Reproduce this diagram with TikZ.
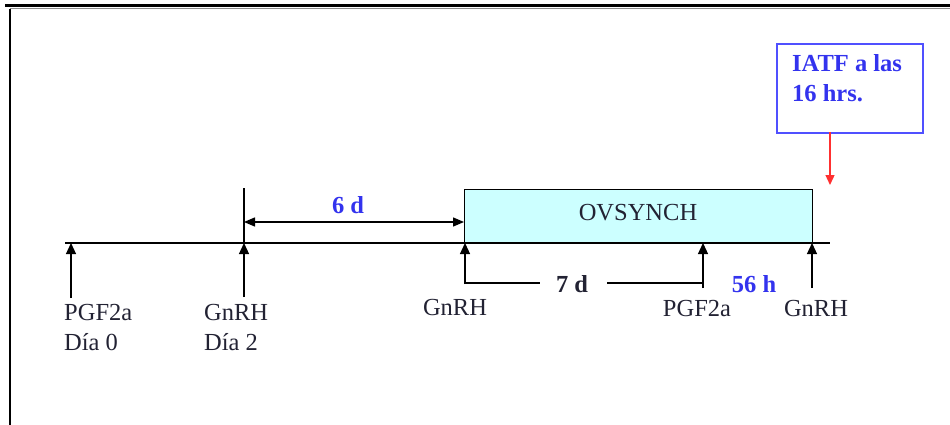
\documentclass[tikz,border=0pt]{standalone}
\usepackage{fontspec}
\setmainfont{Liberation Serif}
\usetikzlibrary{arrows.meta}
\definecolor{txt}{HTML}{222233}
\definecolor{blu}{HTML}{3333EE}
\definecolor{boxblue}{HTML}{5050FF}
\definecolor{lcyan}{HTML}{CCFFFF}
\definecolor{redarr}{HTML}{FF3030}
\begin{document}
\begin{tikzpicture}[x=1pt,y=-1pt,
  font=\fontsize{24.5}{30}\selectfont,
  lbl/.style={inner sep=0pt, text=txt},
  blbl/.style={inner sep=0pt, text=blu, font=\fontsize{24.5}{30}\selectfont\bfseries},
  uparrow/.style={-{Triangle[length=11pt,width=10pt]}, line width=1.2pt, draw=black},
  dimarrow/.style={{Triangle[length=11pt,width=9pt]}-{Triangle[length=11pt,width=9pt]}, line width=1.4pt},
  thin line/.style={line width=1.4pt}]
\useasboundingbox (0,0) rectangle (950,425);
% frame
\coordinate (ftl) at (5,5.5);
\coordinate (ftr) at (950,5.5);
\coordinate (gtl) at (10,8.8);
\coordinate (gtr) at (950,8.8);
\coordinate (fbl) at (10,425);
\draw[line width=2.2pt] (ftl) -- (ftr);
\draw[line width=1pt, black!45] (gtl) -- (gtr);
\draw[line width=1.3pt] (gtl) -- (fbl);
% OVSYNCH box
\node[draw, line width=1.4pt, fill=lcyan, anchor=north west, minimum width=348pt, minimum height=54pt, inner sep=0pt, text=txt] (ov) at (464,189) {};
\node[lbl, anchor=base] (ovt) at (638,220) {OVSYNCH};
% timeline
\coordinate (tl0) at (65,243);
\coordinate (tl1) at (830,243);
\draw[thin line] (tl0) -- (tl1);
% tick at day 2
\coordinate (tk0) at (244,188);
\coordinate (tk1) at (244,243);
\draw[thin line] (tk0) -- (tk1);
% 6 d dimension
\coordinate (d6a) at (244,222);
\coordinate (d6b) at (464,222);
\draw[dimarrow] (d6a) -- (d6b);
\node[blbl, anchor=base] (l6d) at (348,213) {6 d};
% up arrows
\coordinate (a1s) at (71,298); \coordinate (a1e) at (71,243);
\coordinate (a2s) at (244,297); \coordinate (a2e) at (244,243);
\coordinate (a3s) at (465,284); \coordinate (a3e) at (465,243);
\coordinate (a4s) at (703,288); \coordinate (a4e) at (703,243);
\coordinate (a5s) at (812,288); \coordinate (a5e) at (812,243);
\draw[uparrow] (a1s) -- (a1e);
\draw[uparrow] (a2s) -- (a2e);
\draw[uparrow] (a3s) -- (a3e);
\draw[uparrow] (a4s) -- (a4e);
\draw[uparrow] (a5s) -- (a5e);
% 7 d bracket
\coordinate (b7a) at (465,283);
\coordinate (b7b) at (540,283);
\coordinate (b7c) at (607,283);
\coordinate (b7d) at (703,283);
\draw[thin line] (b7a) -- (b7b);
\draw[thin line] (b7c) -- (b7d);
\node[lbl, anchor=base, font=\fontsize{24.5}{30}\selectfont\bfseries] (l7d) at (572,292) {7 d};
\node[blbl, anchor=base] (l56) at (754,292) {56 h};
% labels
\node[lbl, anchor=base west] (lp1) at (64,320) {PGF2a};
\node[lbl, anchor=base west] (ld0) at (64,350) {Día 0};
\node[lbl, anchor=base west] (lg1) at (204,320) {GnRH};
\node[lbl, anchor=base west] (ld2) at (204,350) {Día 2};
\node[lbl, anchor=base] (lg2) at (455,315) {GnRH};
\node[lbl, anchor=base] (lp2) at (697,316) {PGF2a};
\node[lbl, anchor=base] (lg3) at (816,316) {GnRH};
% IATF box
\node[draw=boxblue, line width=2pt, anchor=north west, minimum width=146pt, minimum height=89pt, inner sep=0pt] (iatf) at (776,43) {};
\node[blbl, anchor=base west] (il1) at (792,72) {IATF a las};
\node[blbl, anchor=base west] (il2) at (792,102) {16 hrs.};
\coordinate (ra0) at (830,132);
\coordinate (ra1) at (830,185);
\draw[redarr, line width=1.3pt, -{Triangle[length=10pt,width=9pt]}] (ra0) -- (ra1);
\end{tikzpicture}
\end{document}
